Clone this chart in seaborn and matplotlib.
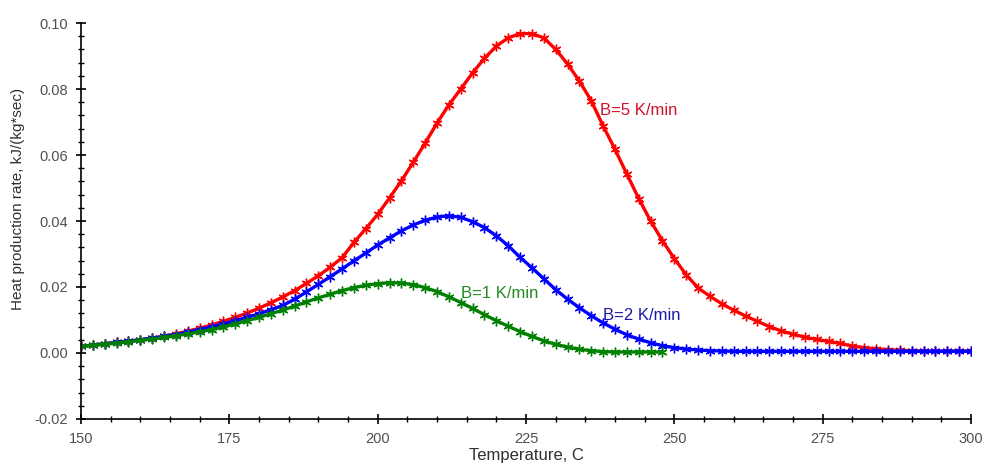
import numpy as np
import pandas as pd
import matplotlib
matplotlib.use("Agg")
import matplotlib.pyplot as plt
from matplotlib.ticker import MultipleLocator, FormatStrFormatter
import seaborn as sns

# ──────────────────────────────────────────────
# Data (T in C, rate in kJ/(kg*sec))
# ──────────────────────────────────────────────

temp_long = list(range(150, 302, 2))
temp_short = list(range(150, 250, 2))

rate_b5 = [
    0.0020, 0.0024, 0.0028, 0.0032, 0.0036, 0.0040, 0.0045, 0.0051, 0.0058, 0.0066,
    0.0075, 0.0085, 0.0096, 0.0108, 0.0121, 0.0136, 0.0152, 0.0170, 0.0189, 0.0211,
    0.0234, 0.0260, 0.0289, 0.0335, 0.0377, 0.0420, 0.0470, 0.0522, 0.0578, 0.0636,
    0.0697, 0.0752, 0.0800, 0.0849, 0.0893, 0.0930, 0.0955, 0.0968, 0.0968, 0.0955,
    0.0920, 0.0876, 0.0824, 0.0764, 0.0688, 0.0617, 0.0542, 0.0468, 0.0400, 0.0340,
    0.0286, 0.0237, 0.0197, 0.0172, 0.0149, 0.0130, 0.0112, 0.0096, 0.0080, 0.0067,
    0.0057, 0.0048, 0.0041, 0.0035, 0.0029, 0.0021, 0.0016, 0.0013, 0.0010, 0.0008,
    0.0007, 0.0006, 0.0006, 0.0006, 0.0006, 0.0006,
]

rate_b2 = [
    0.0020, 0.0024, 0.0028, 0.0032, 0.0036, 0.0040, 0.0045, 0.0050, 0.0056, 0.0063,
    0.0071, 0.0079, 0.0088, 0.0098, 0.0108, 0.0119, 0.0131, 0.0144, 0.0163, 0.0185,
    0.0208, 0.0231, 0.0255, 0.0279, 0.0303, 0.0327, 0.0349, 0.0370, 0.0388, 0.0402,
    0.0412, 0.0416, 0.0411, 0.0398, 0.0380, 0.0355, 0.0325, 0.0290, 0.0258, 0.0225,
    0.0192, 0.0163, 0.0137, 0.0113, 0.0091, 0.0072, 0.0055, 0.0042, 0.0031, 0.0022,
    0.0016, 0.0012, 0.0009, 0.0007, 0.0006, 0.0005, 0.0005, 0.0005, 0.0005, 0.0005,
    0.0005, 0.0005, 0.0005, 0.0005, 0.0005, 0.0005, 0.0005, 0.0005, 0.0005, 0.0005,
    0.0005, 0.0005, 0.0005, 0.0005, 0.0005, 0.0005,
]

rate_b1 = [
    0.0020, 0.0023, 0.0026, 0.0030, 0.0034, 0.0038, 0.0042, 0.0047, 0.0052, 0.0058,
    0.0064, 0.0071, 0.0079, 0.0088, 0.0098, 0.0108, 0.0119, 0.0130, 0.0142, 0.0155,
    0.0167, 0.0178, 0.0189, 0.0198, 0.0205, 0.0210, 0.0213, 0.0212, 0.0207, 0.0198,
    0.0186, 0.0170, 0.0153, 0.0135, 0.0116, 0.0098, 0.0081, 0.0065, 0.0050, 0.0037,
    0.0026, 0.0018, 0.0011, 0.0007, 0.0004, 0.0003, 0.0003, 0.0003, 0.0003, 0.0003,
]

series_labels = ["B=5 K/min", "B=2 K/min", "B=1 K/min"]
line_colors = ["#ff0000", "#0000ff", "#008000"]
text_colors = ["#d0102a", "#1a1aa8", "#238a23"]
label_pos = [(237.4, 0.0736), (238.0, 0.0115), (214.0, 0.0180)]

x_ticks = [150, 175, 200, 225, 250, 275, 300]

# ──────────────────────────────────────────────
# Plot
# ──────────────────────────────────────────────

sns.set_style("ticks")
plt.rcParams["font.family"] = ["Liberation Sans", "DejaVu Sans"]

df = pd.concat([
    pd.DataFrame({"T": temp_long, "rate": rate_b5, "B": series_labels[0]}),
    pd.DataFrame({"T": temp_long, "rate": rate_b2, "B": series_labels[1]}),
    pd.DataFrame({"T": temp_short, "rate": rate_b1, "B": series_labels[2]}),
])

fig = plt.figure(figsize=(9.87, 4.66), dpi=100)
ax = fig.add_axes([0.0821, 0.1009, 0.9017, 0.8497])

for lab, col in zip(series_labels, line_colors):
    sns.lineplot(
        data=df[df["B"] == lab], x="T", y="rate", ax=ax,
        color=col, linewidth=2.4, marker=(6, 2, 0), markersize=7,
        markeredgecolor=col, markeredgewidth=1.0, legend=False,
    )

for lab, col, (tx, ty) in zip(series_labels, text_colors, label_pos):
    ax.text(tx, ty, lab, color=col, fontsize=12, va="center", ha="left")

ax.set_xlim(150, 300)
ax.set_ylim(-0.02, 0.10)
ax.set_xticks(x_ticks)
ax.xaxis.set_minor_locator(MultipleLocator(5))
ax.yaxis.set_major_locator(MultipleLocator(0.02))
ax.yaxis.set_minor_locator(MultipleLocator(0.004))
ax.yaxis.set_major_formatter(FormatStrFormatter("%.2f"))

ax.tick_params(which="major", direction="inout", length=7, width=1.2,
               labelsize=10.5, labelcolor="#505050", color="black", pad=6)
ax.tick_params(which="minor", direction="inout", length=5, width=1.0, color="black")

for side in ["top", "right"]:
    ax.spines[side].set_visible(False)
for side in ["left", "bottom"]:
    ax.spines[side].set_color("black")
    ax.spines[side].set_linewidth(1.2)

ax.set_xlabel("Temperature, C", fontsize=12, color="#303030", labelpad=1)
ax.set_ylabel("Heat production rate, kJ/(kg*sec)", fontsize=11, color="#303030")
# the y label sits a little above the axis centre in the reference
ax.yaxis.set_label_coords(-0.063, 0.556)

fig.savefig("out.png", dpi=100)
plt.close(fig)
